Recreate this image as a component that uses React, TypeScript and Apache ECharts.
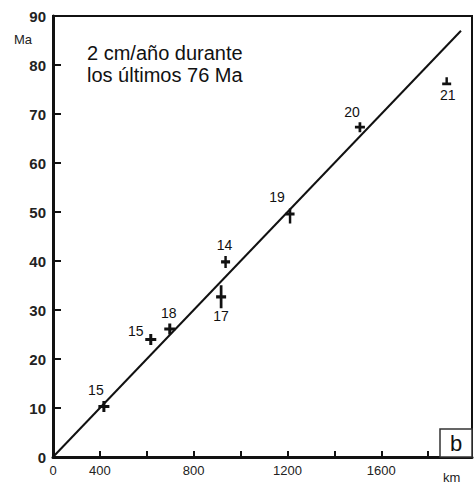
import React, { useEffect, useRef } from "react";
import * as echarts from "echarts";

// Data
const pointLabels = ["15", "15", "18", "14", "17", "19", "20", "21"];
const pointKm = [217, 417, 498, 736, 717, 1011, 1309, 1679];
const pointMa = [10.3, 24.0, 26.1, 39.8, 32.7, 49.2, 67.3, 76.7];

const lineKm = [0, 1740];
const lineMa = [0, 87];

// Printed tick labels of the original figure (by km tick value)
const xTickValues = [0, 200, 600, 1000, 1400];
const xTickLabels = ["0", "400", "800", "1200", "1600"];
const yTicks = [0, 10, 20, 30, 40, 50, 60, 70, 80, 90];

const noteLines = ["2 cm/año durante", "los últimos 76 Ma"];

const FONT = "'Liberation Sans', Arial, sans-serif";

const PLUS = "path://M4,0h3v4h4v3h-4v4h-3v-4h-4v-3h4z";
const PLUS_TALL = "path://M4,0h3v9h4v3h-4v9h-3v-9h-4v-3h4z";
const PLUS_LONGDOWN = "path://M4,0h3v4h4v3h-4v8h-3v-8h-4v-3h4z";
const TEE = "path://M4,0h3v6h4v3h-11v-3h4z";

export default function App() {
  const ref = useRef<HTMLDivElement>(null);

  useEffect(() => {
    if (!ref.current) return;
    const chart = echarts.init(ref.current, undefined, { renderer: "svg" });

    const shapes = [
      { symbol: PLUS, size: [11, 11], pos: "top", off: [-8, 0] },
      { symbol: PLUS, size: [11, 11], pos: "top", off: [-15, 8] },
      { symbol: PLUS, size: [11, 11], pos: "top", off: [-1, 0] },
      { symbol: PLUS, size: [9, 12], pos: "top", off: [-1, 0] },
      { symbol: PLUS_TALL, size: [10, 23], pos: "bottom", off: [0, -3] },
      { symbol: PLUS_LONGDOWN, size: [9, 15], pos: "top", off: [-13, 0] },
      { symbol: PLUS, size: [10, 10], pos: "top", off: [-8, 1] },
      { symbol: TEE, size: [9, 8], pos: "bottom", off: [1, -1] },
    ];

    const scatterData = pointKm.map((km, i) => ({
      value: [km, pointMa[i]],
      name: pointLabels[i],
      symbol: shapes[i].symbol,
      symbolSize: shapes[i].size,
      label: {
        show: true,
        position: shapes[i].pos,
        offset: shapes[i].off,
        formatter: pointLabels[i],
      },
    }));

    chart.setOption({
      animation: false,
      backgroundColor: "#fff",
      grid: {
        left: 53,
        right: 4,
        top: 16,
        bottom: 31,
        show: true,
        borderColor: "#111",
        borderWidth: 2,
      },
      xAxis: {
        type: "value",
        min: 0,
        max: 1787,
        interval: 200,
        splitLine: { show: false },
        axisLine: { show: true, lineStyle: { color: "#111", width: 3 } },
        axisTick: { show: true, inside: true, length: 6, lineStyle: { color: "#111", width: 2 } },
        axisLabel: {
          color: "#222",
          fontSize: 13,
          fontFamily: FONT,
          margin: 7,
          showMaxLabel: false,
          formatter: (v: number) => {
            const i = xTickValues.indexOf(Math.round(v));
            return i >= 0 ? xTickLabels[i] : "";
          },
        },
      },
      yAxis: {
        type: "value",
        min: yTicks[0],
        max: yTicks[yTicks.length - 1],
        interval: 10,
        splitLine: { show: false },
        axisLine: { show: true, lineStyle: { color: "#111", width: 3 } },
        axisTick: { show: true, inside: true, length: 8, lineStyle: { color: "#111", width: 2 } },
        axisLabel: {
          color: "#222",
          fontSize: 15,
          fontWeight: "bold",
          fontFamily: FONT,
          margin: 7,
        },
      },
      series: [
        {
          type: "line",
          data: lineKm.map((k, i) => [k, lineMa[i]]),
          showSymbol: false,
          symbol: "none",
          lineStyle: { color: "#111", width: 2 },
          z: 2,
        },
        {
          type: "scatter",
          data: scatterData,
          itemStyle: { color: "#111", opacity: 1 },
          label: {
            color: "#111",
            fontSize: 14,
            fontFamily: FONT,
            distance: 4,
          },
          z: 3,
        },
      ],
      graphic: [
        {
          type: "text",
          left: 87,
          top: 42,
          style: {
            text: noteLines.join("\n"),
            fontSize: 20,
            lineHeight: 22,
            fontFamily: FONT,
            fill: "#111",
          },
        },
        {
          type: "text",
          left: 14,
          top: 33,
          style: { text: "Ma", fontSize: 13, fontFamily: FONT, fill: "#222" },
        },
        {
          type: "text",
          left: 443,
          top: 471,
          style: { text: "km", fontSize: 13, fontFamily: FONT, fill: "#222" },
        },
        {
          type: "rect",
          shape: { x: 440, y: 429, width: 32, height: 28 },
          style: { fill: "#fff", stroke: "#333", lineWidth: 1.5 },
          z: 10,
        },
        {
          type: "text",
          x: 456,
          y: 443,
          style: {
            text: "b",
            fontSize: 22,
            fontFamily: FONT,
            fill: "#111",
            align: "center",
            verticalAlign: "middle",
          },
          z: 11,
        },
      ],
    });

    return () => chart.dispose();
  }, []);

  return <div ref={ref} style={{ width: 476, height: 488, position: "absolute", left: 0, top: 0 }} />;
}
